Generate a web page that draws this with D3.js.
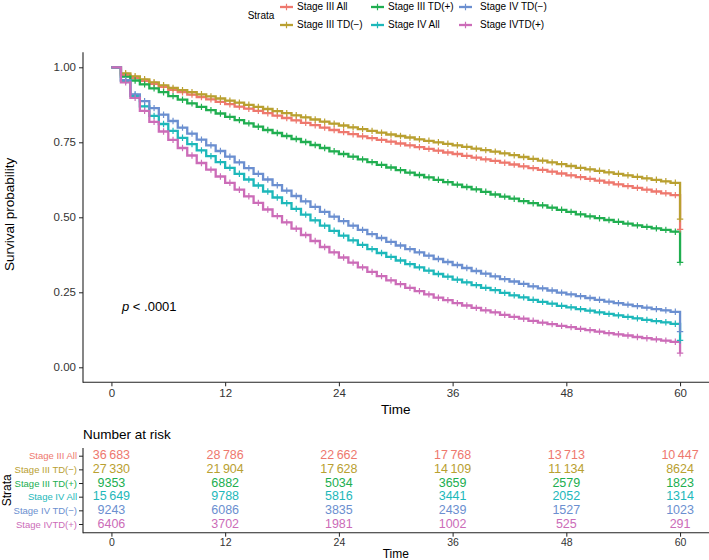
<!DOCTYPE html>
<html>
<head>
<meta charset="utf-8">
<script src="https://cdn.jsdelivr.net/npm/d3@7"></script>
<style>
  html, body { margin: 0; padding: 0; background: #fff; }
  svg { display: block; font-family: "Liberation Sans", Arial, sans-serif; }
</style>
</head>
<body>
<svg id="chart" width="709" height="560"></svg>
<script>
// ---------------- DATA ----------------
const strata = ["Stage III All", "Stage III TD(\u2212)", "Stage III TD(+)", "Stage IV All", "Stage IV TD(\u2212)", "Stage IVTD(+)"];
const colors = ["#EE786E", "#B9A030", "#20AE50", "#1DB8BA", "#6B8FD0", "#CC6CB8"];

const months = d3.range(0, 61);

const stageIIIAll = [1.000,0.975,0.965,0.955,0.945,0.935,0.925,0.917,0.909,0.901,0.893,0.885,0.877,0.869,0.862,0.855,0.847,0.839,0.831,0.823,0.815,0.807,0.799,0.791,0.784,0.777,0.770,0.764,0.758,0.752,0.746,0.740,0.734,0.728,0.722,0.716,0.711,0.705,0.699,0.693,0.688,0.682,0.676,0.670,0.664,0.658,0.652,0.646,0.640,0.634,0.628,0.622,0.616,0.610,0.604,0.598,0.592,0.586,0.580,0.574,0.460];
const stageIIITDneg = [1.000,0.980,0.970,0.960,0.950,0.940,0.931,0.924,0.917,0.910,0.903,0.896,0.889,0.882,0.875,0.868,0.861,0.854,0.847,0.840,0.833,0.826,0.819,0.812,0.806,0.800,0.794,0.788,0.782,0.776,0.771,0.766,0.760,0.755,0.750,0.745,0.740,0.735,0.729,0.724,0.719,0.713,0.707,0.701,0.695,0.689,0.683,0.677,0.671,0.665,0.660,0.655,0.650,0.645,0.640,0.635,0.630,0.625,0.620,0.615,0.494];
const stageIIITDpos = [1.000,0.969,0.956,0.943,0.930,0.917,0.904,0.892,0.880,0.868,0.857,0.846,0.835,0.824,0.813,0.802,0.791,0.781,0.771,0.761,0.751,0.741,0.731,0.720,0.711,0.702,0.693,0.684,0.675,0.666,0.657,0.649,0.641,0.633,0.625,0.617,0.609,0.601,0.593,0.585,0.576,0.569,0.562,0.554,0.547,0.540,0.532,0.525,0.518,0.510,0.503,0.497,0.491,0.485,0.479,0.473,0.468,0.463,0.458,0.452,0.350];
const stageIVAll = [1.000,0.955,0.905,0.870,0.838,0.811,0.788,0.765,0.744,0.723,0.704,0.684,0.665,0.645,0.626,0.606,0.586,0.566,0.547,0.528,0.509,0.490,0.472,0.455,0.439,0.423,0.408,0.394,0.381,0.368,0.356,0.344,0.333,0.322,0.311,0.302,0.292,0.283,0.274,0.265,0.257,0.248,0.240,0.233,0.225,0.218,0.212,0.205,0.200,0.194,0.189,0.183,0.178,0.173,0.168,0.163,0.158,0.154,0.150,0.145,0.090];
const stageIVTDneg = [1.000,0.957,0.910,0.887,0.864,0.842,0.821,0.799,0.779,0.759,0.740,0.721,0.702,0.683,0.664,0.645,0.626,0.607,0.589,0.571,0.553,0.535,0.518,0.502,0.487,0.472,0.458,0.444,0.431,0.418,0.406,0.394,0.383,0.372,0.361,0.351,0.341,0.331,0.321,0.312,0.303,0.294,0.286,0.278,0.270,0.263,0.256,0.249,0.243,0.237,0.231,0.225,0.219,0.214,0.209,0.204,0.199,0.194,0.190,0.185,0.119];
const stageIVTDpos = [1.000,0.950,0.898,0.855,0.818,0.786,0.758,0.731,0.706,0.681,0.659,0.636,0.615,0.592,0.570,0.548,0.526,0.504,0.483,0.462,0.441,0.421,0.401,0.383,0.366,0.349,0.333,0.318,0.304,0.290,0.277,0.265,0.254,0.243,0.232,0.224,0.214,0.206,0.198,0.190,0.183,0.175,0.168,0.162,0.155,0.149,0.144,0.138,0.134,0.128,0.124,0.119,0.114,0.110,0.106,0.101,0.097,0.093,0.089,0.085,0.047];

const survival = [stageIIIAll, stageIIITDneg, stageIIITDpos, stageIVAll, stageIVTDneg, stageIVTDpos];

const xTicks = [0, 12, 24, 36, 48, 60];
const yTicks = [0, 0.25, 0.5, 0.75, 1.0];

const riskTimes = [0, 12, 24, 36, 48, 60];
const riskIIIAll = [36683, 28786, 22662, 17768, 13713, 10447];
const riskIIITDneg = [27330, 21904, 17628, 14109, 11134, 8624];
const riskIIITDpos = [9353, 6882, 5034, 3659, 2579, 1823];
const riskIVAll = [15649, 9788, 5816, 3441, 2052, 1314];
const riskIVTDneg = [9243, 6086, 3835, 2439, 1527, 1023];
const riskIVTDpos = [6406, 3702, 1981, 1002, 525, 291];
const riskTable = [riskIIIAll, riskIIITDneg, riskIIITDpos, riskIVAll, riskIVTDneg, riskIVTDpos];

const pText = "< .0001";

// ---------------- LAYOUT ----------------
const FONT = "Liberation Sans, Arial, sans-serif";
const svg = d3.select("#chart");
const panel = { left: 83, right: 709, top: 52.3, bottom: 382.3 };

const x = d3.scaleLinear().domain([-3, 63]).range([panel.left, panel.right - 0.5]);
const y = d3.scaleLinear().domain([-0.05, 1.05]).range([panel.bottom, panel.top]);

const tickColor = "#333";

// ---------------- MAIN PLOT ----------------
const gMain = svg.append("g");

const yAxis = d3.axisLeft(y).tickValues(yTicks).tickFormat(d3.format(".2f")).tickSize(4).tickPadding(3);
const gy = gMain.append("g").attr("transform", `translate(${panel.left},0)`).call(yAxis);
gy.select(".domain").remove();
gy.selectAll(".tick line").attr("stroke", "#222").attr("stroke-width", 1);
gy.selectAll(".tick text").attr("font-size", 11.5).attr("fill", tickColor).attr("font-family", FONT);

const xAxis = d3.axisBottom(x).tickValues(xTicks).tickSize(4).tickPadding(3);
const gx = gMain.append("g").attr("transform", `translate(0,${panel.bottom})`).call(xAxis);
gx.select(".domain").remove();
gx.selectAll(".tick line").attr("stroke", "#222").attr("stroke-width", 1);
gx.selectAll(".tick text").attr("font-size", 11.5).attr("fill", tickColor).attr("font-family", FONT);

gMain.append("line").attr("x1", panel.left).attr("x2", panel.left).attr("y1", panel.top).attr("y2", panel.bottom + 0.5)
  .attr("stroke", "#222").attr("stroke-width", 1.1);
gMain.append("line").attr("x1", panel.left).attr("x2", panel.right).attr("y1", panel.bottom).attr("y2", panel.bottom)
  .attr("stroke", "#222").attr("stroke-width", 1.1);

gMain.append("text").attr("transform", `translate(10,${(panel.top + panel.bottom) / 2 - 3}) rotate(-90)`)
  .attr("text-anchor", "middle").attr("dominant-baseline", "middle").attr("font-size", 13.5).attr("fill", "#000")
  .text("Survival probability");
gMain.append("text").attr("x", x(30)).attr("y", 410).attr("text-anchor", "middle").attr("dominant-baseline", "middle")
  .attr("font-size", 13.5).attr("fill", "#000").text("Time");

const line = d3.line().x((d, i) => x(months[i])).y(d => y(d)).curve(d3.curveStepAfter);
const gCurves = gMain.append("g");
survival.forEach((s, k) => {
  gCurves.append("path").attr("d", line(s)).attr("fill", "none").attr("stroke", colors[k]).attr("stroke-width", 2.3)
    .attr("stroke-linejoin", "miter");
});
const plusPath = (cx, cy, r) => `M${cx - r},${cy}H${cx + r}M${cx},${cy - r}V${cy + r}`;
survival.forEach((s, k) => {
  let d = "";
  for (let i = 1; i < 60; i++) d += plusPath(x(months[i] + 0.5), y(s[i]), 3.2);
  d += plusPath(x(60), y(s[60]), 3.2);
  gCurves.append("path").attr("d", d).attr("fill", "none").attr("stroke", colors[k]).attr("stroke-width", 1.2);
});

const pv = gMain.append("text").attr("x", 122).attr("y", 308).attr("dominant-baseline", "middle").attr("font-size", 13).attr("fill", "#000");
pv.append("tspan").attr("font-style", "italic").text("p");
pv.append("tspan").text(" " + pText);

// ---------------- LEGEND ----------------
const gLeg = svg.append("g");
gLeg.append("text").attr("x", 261).attr("y", 16).attr("text-anchor", "middle").attr("dominant-baseline", "middle")
  .attr("font-size", 10).attr("fill", "#000").text("Strata");
const legCols = [{ key: 280, text: 297 }, { key: 371, text: 388 }, { key: 459, text: 480 }];
const legRows = [7, 25];
strata.forEach((name, k) => {
  const col = legCols[Math.floor(k / 2)];
  const ry = legRows[k % 2];
  const g = gLeg.append("g");
  g.append("line").attr("x1", col.key).attr("x2", col.key + 13).attr("y1", ry).attr("y2", ry)
    .attr("stroke", colors[k]).attr("stroke-width", 2.3);
  g.append("path").attr("d", plusPath(col.key + 6.5, ry, 3.2)).attr("stroke", colors[k]).attr("stroke-width", 1.2);
  g.append("text").attr("x", col.text).attr("y", ry).attr("dominant-baseline", "middle").attr("font-size", 10)
    .attr("fill", "#000").text(name);
});

// ---------------- RISK TABLE ----------------
const rPanel = { left: 83, right: 709, top: 448, bottom: 532.7 };
const xr = d3.scaleLinear().domain([-3, 63]).range([rPanel.left, rPanel.right - 0.5]);
const yr = d3.scaleBand().domain(strata).range([rPanel.top, rPanel.bottom]).paddingOuter(0.1);

const gRisk = svg.append("g");
gRisk.append("text").attr("x", 83).attr("y", 435).attr("dominant-baseline", "middle").attr("font-size", 13.5)
  .attr("fill", "#000").text("Number at risk");

const fmtN = n => n >= 10000 ? d3.format(",")(n).replace(",", "\u2009") : String(n);
riskTable.forEach((row, k) => {
  row.forEach((n, j) => {
    gRisk.append("text").attr("x", xr(riskTimes[j])).attr("y", yr(strata[k]) + yr.bandwidth() / 2)
      .attr("text-anchor", "middle").attr("dominant-baseline", "middle").attr("font-size", 12.5)
      .attr("fill", colors[k]).text(fmtN(n));
  });
});

const ryAxis = d3.axisLeft(yr).tickSize(4).tickPadding(2);
const gry = gRisk.append("g").attr("transform", `translate(${rPanel.left},0)`).call(ryAxis);
gry.select(".domain").remove();
gry.selectAll(".tick line").attr("stroke", "#222");
gry.selectAll(".tick text").attr("font-size", 9.5).attr("font-family", FONT)
  .attr("fill", (d, i) => colors[i]);

const rxAxis = d3.axisBottom(xr).tickValues(riskTimes).tickSize(4).tickPadding(2);
const grx = gRisk.append("g").attr("transform", `translate(0,${rPanel.bottom})`).call(rxAxis);
grx.select(".domain").remove();
grx.selectAll(".tick line").attr("stroke", "#222");
grx.selectAll(".tick text").attr("font-size", 10.5).attr("fill", tickColor).attr("font-family", FONT);

gRisk.append("line").attr("x1", rPanel.left).attr("x2", rPanel.left).attr("y1", rPanel.top).attr("y2", rPanel.bottom + 0.5)
  .attr("stroke", "#222").attr("stroke-width", 1.1);
gRisk.append("line").attr("x1", rPanel.left).attr("x2", rPanel.right).attr("y1", rPanel.bottom).attr("y2", rPanel.bottom)
  .attr("stroke", "#222").attr("stroke-width", 1.1);

gRisk.append("text").attr("transform", `translate(8,${(rPanel.top + rPanel.bottom) / 2}) rotate(-90)`)
  .attr("text-anchor", "middle").attr("dominant-baseline", "middle").attr("font-size", 12).attr("fill", "#000").text("Strata");
gRisk.append("text").attr("x", xr(30)).attr("y", 555).attr("text-anchor", "middle").attr("dominant-baseline", "middle")
  .attr("font-size", 12).attr("fill", "#000").text("Time");
</script>
</body>
</html>
